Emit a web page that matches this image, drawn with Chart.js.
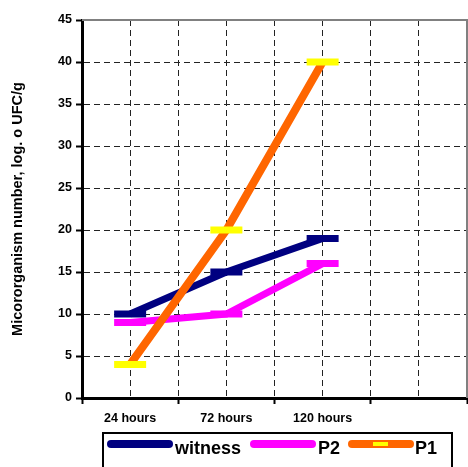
<!DOCTYPE html>
<html>
<head>
<meta charset="utf-8">
<script src="https://cdn.jsdelivr.net/npm/chart.js@4/dist/chart.umd.min.js"></script>
<style>
  html, body { margin: 0; padding: 0; background: #fff; overflow: hidden; width: 468px; height: 467px; }
  #wrap { position: relative; width: 468px; height: 467px; }
  canvas { position: absolute; left: 0; top: 0; }
  #legend { position: absolute; left: 102px; top: 432px; width: 351px; height: 60px; border: 2px solid #000; box-sizing: border-box; }
  .sw { position: absolute; height: 8px; border-radius: 4px; top: 6px; }
  .lt { position: absolute; font: bold 18px "Liberation Sans", Arial, sans-serif; line-height: 18px; top: 5px; color: #000; }
  .mk { position: absolute; height: 4px; background: #ffff00; top: 2px; }
</style>
</head>
<body>
<div id="wrap">
  <canvas id="c" width="468" height="467"></canvas>
  <div id="legend"></div>
</div>
<script>
const categories = ['24 hours', '72 hours', '120 hours', ''];
const seriesNames = ['witness', 'P2', 'P1'];
const witness = [10, 15, 19];
const p2 = [9, 10, 16];
const p1 = [4, 20, 40];
const yTicks = [0, 5, 10, 15, 20, 25, 30, 35, 40, 45];

const lineColors = ['#000080', '#ff00ff', '#ff6600'];
const markerColors = ['#000080', '#ff00ff', '#ffff00'];
const FONT = '"Liberation Sans", Arial, sans-serif';

function ds(label, data, i, order, bw) {
  return {
    label, data, order,
    borderColor: lineColors[i],
    backgroundColor: lineColors[i],
    borderWidth: bw,
    tension: 0,
    fill: false,
    pointStyle: 'line',
    pointRadius: 16,
    pointHoverRadius: 16,
    pointBorderWidth: 7,
    pointHoverBorderWidth: 7,
    pointBorderColor: markerColors[i],
    pointBackgroundColor: markerColors[i]
  };
}

const frame = {
  id: 'frame',
  beforeDatasetsDraw(chart) {
    const a = chart.chartArea, ctx = chart.ctx;
    ctx.save();
    ctx.strokeStyle = '#808080';
    ctx.lineWidth = 2;
    ctx.beginPath();
    ctx.moveTo(a.left, a.top);
    ctx.lineTo(a.right, a.top);
    ctx.lineTo(a.right, a.bottom);
    ctx.stroke();
    ctx.restore();
  }
};

new Chart(document.getElementById('c'), {
  type: 'line',
  data: {
    labels: categories,
    datasets: [
      ds(seriesNames[0], witness, 0, 2, 7),
      ds(seriesNames[1], p2, 1, 1, 7),
      ds(seriesNames[2], p1, 2, 0, 8)
    ]
  },
  options: {
    responsive: false,
    animation: false,
    devicePixelRatio: 1,
    layout: { autoPadding: false, padding: { top: 20, right: 1, left: 0, bottom: 0 } },
    plugins: { legend: { display: false }, tooltip: { enabled: false } },
    events: [],
    scales: {
      x: {
        type: 'category',
        offset: true,
        grid: { offset: true, drawOnChartArea: false, drawTicks: true, tickLength: 6, tickColor: '#000', tickWidth: 2 },
        border: { color: '#000', width: 3 },
        ticks: { color: '#000', font: { family: FONT, size: 12.5, weight: 'bold' }, padding: 7, maxRotation: 0, autoSkip: false },
        afterFit(s) { s.height = 69; }
      },
      x2: {
        type: 'linear',
        position: 'bottom',
        min: 0, max: 8,
        ticks: { display: false, stepSize: 1 },
        grid: { color: '#222', lineWidth: 1, drawTicks: false },
        border: { display: false, dash: [6, 4] },
        afterFit(s) { s.height = 0; }
      },
      y: {
        min: 0, max: 45,
        afterBuildTicks(s) { s.ticks = yTicks.map(v => ({ value: v })); },
        ticks: { color: '#000', font: { family: FONT, size: 12.5, weight: 'bold' }, padding: 4 },
        grid: { color: '#222', lineWidth: 1, drawTicks: true, tickLength: 6, tickColor: '#000', tickWidth: 2 },
        border: { color: '#000', width: 3, dash: [6, 4] },
        title: { display: true, text: 'Micororganism number, log. o UFC/g', color: '#000', font: { family: FONT, size: 14.5, weight: 'bold' }, padding: { top: 9, bottom: 0 } },
        afterFit(s) { s.width = 82; }
      }
    }
  },
  plugins: [frame]
});

// HTML legend built from series names
const lg = document.getElementById('legend');
const items = [
  { sw: 3, swW: 66, tx: 71 },
  { sw: 146, swW: 66, tx: 214 },
  { sw: 244, swW: 66, tx: 311 }
];
seriesNames.forEach((n, i) => {
  const s = document.createElement('div');
  s.className = 'sw';
  s.style.left = items[i].sw + 'px';
  s.style.width = items[i].swW + 'px';
  s.style.background = lineColors[i];
  if (i === 2) {
    const m = document.createElement('div');
    m.className = 'mk';
    m.style.left = '25px';
    m.style.width = '15px';
    s.appendChild(m);
  }
  lg.appendChild(s);
  const t = document.createElement('div');
  t.className = 'lt';
  t.style.left = items[i].tx + 'px';
  t.textContent = n;
  lg.appendChild(t);
});
</script>
</body>
</html>
